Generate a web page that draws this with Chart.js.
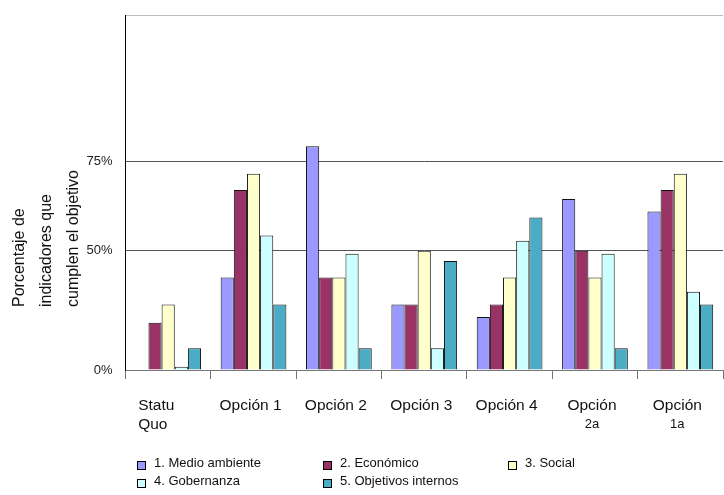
<!DOCTYPE html>
<html>
<head>
<meta charset="utf-8">
<script src="https://cdn.jsdelivr.net/npm/chart.js@4.4.1/dist/chart.umd.min.js"></script>
<style>
  html, body { margin: 0; padding: 0; background: #fff; }
  canvas { display: block; }
</style>
</head>
<body>
<canvas id="chart" width="724" height="495"></canvas>
<script>
// ── DATA ──────────────────────────────────────────────────────────
const categories   = ["Statu Quo", "Opción 1", "Opción 2", "Opción 3", "Opción 4", "Opción 2a", "Opción 1a"];
const catLines     = [["Statu", "Quo"], ["Opción 1"], ["Opción 2"], ["Opción 3"], ["Opción 4"], ["Opción"], ["Opción"]];
const catSubLines  = ["", "", "", "", "", "2a", "1a"];

const seriesNames  = ["1. Medio ambiente", "2. Económico", "3. Social", "4. Gobernanza", "5. Objetivos internos"];
const medioAmb     = [0,    38.8, 93.9, 27.5, 22.2, 71.8, 66.5];
const economico    = [19.8, 75.6, 38.8, 27.5, 27.5, 50,   75.6];
const social       = [27.5, 82.4, 38.8, 50,   38.8, 38.8, 82.4];
const gobernanza   = [1.4,  56.4, 48.8, 9.1,  54.2, 48.8, 32.8];
const objetivos    = [9.1,  27.5, 9.1,  45.7, 64,   9.1,  27.5];

const yTickValues  = [0, 50, 87.4];
const yTickLabels  = ["0%", "50%", "75%"];
const yMax         = 149;

const yTitleLines  = ["Porcentaje de", "indicadores que", "cumplen el objetivo"];

const FONT = "'Liberation Sans', Arial, sans-serif";
const colors = ["#9999ff", "#993366", "#ffffcc", "#ccffff", "#4bacc6"];

// ── PLUGIN: axis title, category labels, legend ───────────────────
const decor = {
  id: "decor",
  afterDraw(chart) {
    const ctx = chart.ctx;
    const xs  = chart.scales.x;
    ctx.save();
    ctx.fillStyle = "#111";

    // y title (rotated, start-aligned at the bottom)
    ctx.font = "16px " + FONT;
    ctx.textAlign = "left";
    ctx.textBaseline = "middle";
    yTitleLines.forEach((line, i) => {
      ctx.save();
      ctx.translate(20 + i * 27, 307);
      ctx.rotate(-Math.PI / 2);
      ctx.fillText(line, 0, 0);
      ctx.restore();
    });

    // category labels (wrapped ones are left-aligned as a block)
    categories.forEach((c, i) => {
      const x = xs.getPixelForValue(i) - 3;
      ctx.font = "15.5px " + FONT;
      const lines = catLines[i];
      if (lines.length > 1) {
        ctx.textAlign = "left";
        lines.forEach((line, j) => ctx.fillText(line, x - 27, 406 + j * 19));
      } else {
        ctx.textAlign = "center";
        ctx.fillText(lines[0], x, 406);
      }
      if (catSubLines[i]) {
        ctx.textAlign = "center";
        ctx.font = "13px " + FONT;
        ctx.fillText(catSubLines[i], x, 424);
      }
    });

    // legend
    const cols = [137, 323, 508];
    ctx.font = "13px " + FONT;
    ctx.textAlign = "left";
    chart.data.datasets.forEach((ds, i) => {
      const col = i % 3, row = Math.floor(i / 3);
      const y = 463 + row * 18;
      ctx.fillStyle = ds.backgroundColor;
      ctx.fillRect(cols[col] + 0.5, y - 1.5, 8, 8);
      ctx.strokeStyle = "#000";
      ctx.lineWidth = 1;
      ctx.strokeRect(cols[col] + 0.5, y - 1.5, 8, 8);
      ctx.fillStyle = "#111";
      ctx.fillText(ds.label, cols[col] + 17, y);
    });
    ctx.restore();
  }
};

// ── CHART ─────────────────────────────────────────────────────────
const seriesData = [medioAmb, economico, social, gobernanza, objetivos];

new Chart(document.getElementById("chart"), {
  type: "bar",
  data: {
    labels: categories,
    datasets: seriesNames.map((name, i) => ({
      label: name,
      data: seriesData[i],
      backgroundColor: colors[i],
      borderColor: "#111",
      borderWidth: 1,
      categoryPercentage: 0.77,
      barPercentage: 1.0,
    }))
  },
  options: {
    responsive: false,
    animation: false,
    layout: { padding: { top: 15, right: 1, left: 0, bottom: 0 } },
    plugins: {
      legend:  { display: false },
      tooltip: { enabled: false }
    },
    scales: {
      x: {
        grid: {
          offset: true,
          drawOnChartArea: false,
          drawTicks: true,
          tickLength: 9,
          color: "#777"
        },
        border: { color: "#777", width: 1 },
        ticks: { callback: () => "" },
        afterFit: s => { s.height = 125; }
      },
      y: {
        min: 0,
        max: yMax,
        afterBuildTicks: s => {
          s.ticks = yTickValues.map(v => ({ value: v })).concat([{ value: yMax }]);
        },
        grid: {
          drawTicks: false,
          color: c => {
            if (c.tick.value === 0) return "rgba(0,0,0,0)";
            if (c.tick.value === yMax) return "#bbb";
            return "#555";
          }
        },
        border: { color: "#000", width: 1 },
        ticks: {
          padding: 13,
          color: "#222",
          font: { family: FONT, size: 13 },
          callback: v => {
            const i = yTickValues.indexOf(v);
            return i >= 0 ? yTickLabels[i] : "";
          }
        },
        afterFit: s => {
          s.width = 125.5;
          s.paddingTop = 0;
          s.paddingBottom = 0;
        }
      }
    }
  },
  plugins: [decor]
});
</script>
</body>
</html>
